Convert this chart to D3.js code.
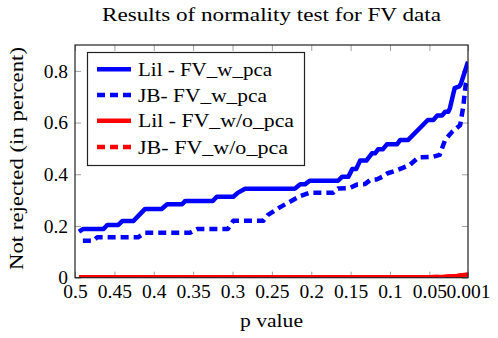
<!DOCTYPE html>
<html>
<head>
<meta charset="utf-8">
<script src="https://cdn.jsdelivr.net/npm/d3@7"></script>
<style>
  body { margin: 0; background: #fff; }
</style>
</head>
<body>
<svg id="chart" width="498" height="338"></svg>
<script>
// p value (x) and share not rejected (y)
var lilWpcaP = [0.495, 0.490, 0.464, 0.459, 0.445, 0.440, 0.426, 0.411, 0.390, 0.383, 0.364, 0.360, 0.325, 0.320, 0.299, 0.293, 0.284, 0.221, 0.214, 0.208, 0.202, 0.166, 0.161, 0.153, 0.148, 0.143, 0.138, 0.130, 0.123, 0.119, 0.115, 0.109, 0.104, 0.091, 0.087, 0.077, 0.052, 0.045, 0.040, 0.034, 0.030, 0.026, 0.024, 0.018, 0.012, 0.010, 0.001];
var lilWpcaV = [0.178, 0.188, 0.188, 0.204, 0.204, 0.219, 0.219, 0.266, 0.266, 0.284, 0.284, 0.297, 0.297, 0.313, 0.313, 0.329, 0.344, 0.344, 0.361, 0.361, 0.375, 0.375, 0.390, 0.390, 0.420, 0.420, 0.453, 0.453, 0.481, 0.481, 0.497, 0.497, 0.516, 0.516, 0.533, 0.533, 0.610, 0.610, 0.627, 0.627, 0.642, 0.642, 0.655, 0.733, 0.740, 0.750, 0.835];

var jbWpcaP = [0.490, 0.477, 0.472, 0.420, 0.411, 0.354, 0.345, 0.306, 0.299, 0.261, 0.255, 0.240, 0.227, 0.214, 0.202, 0.172, 0.166, 0.151, 0.142, 0.132, 0.125, 0.117, 0.110, 0.103, 0.090, 0.075, 0.064, 0.045, 0.037, 0.030, 0.021, 0.011, 0.007, 0.004, 0.001];
var jbWpcaV = [0.143, 0.143, 0.156, 0.156, 0.174, 0.174, 0.188, 0.188, 0.220, 0.220, 0.243, 0.272, 0.294, 0.316, 0.329, 0.329, 0.345, 0.347, 0.360, 0.362, 0.378, 0.380, 0.390, 0.404, 0.417, 0.436, 0.465, 0.468, 0.475, 0.533, 0.565, 0.590, 0.662, 0.745, 0.770];

var lilWopcaP = [0.495, 0.300, 0.100, 0.050, 0.030, 0.015, 0.001];
var lilWopcaV = [0.002, 0.002, 0.002, 0.002, 0.004, 0.007, 0.012];

var jbWopcaP = [0.495, 0.300, 0.100, 0.050, 0.030, 0.015, 0.001];
var jbWopcaV = [0.002, 0.002, 0.002, 0.002, 0.003, 0.006, 0.011];

var xTicks = [0.5, 0.45, 0.4, 0.35, 0.3, 0.25, 0.2, 0.15, 0.1, 0.05, 0.001];
var yTicks = [0, 0.2, 0.4, 0.6, 0.8];

var series = [
  { name: "Lil - FV_w_pca", p: lilWpcaP, v: lilWpcaV, color: "#0000ff", dash: null, w: 134 },
  { name: "JB- FV_w_pca", p: jbWpcaP, v: jbWpcaV, color: "#0000ff", dash: "8,5", w: 129 },
  { name: "Lil - FV_w/o_pca", p: lilWopcaP, v: lilWopcaV, color: "#ff0000", dash: null, w: 156 },
  { name: "JB- FV_w/o_pca", p: jbWopcaP, v: jbWopcaV, color: "#ff0000", dash: "8,5", w: 150 }
];

var FONT = "'Liberation Serif', 'DejaVu Serif', serif";

var svg = d3.select("#chart").attr("font-family", FONT);
var pl = 75, pr = 468, pt = 45, pb = 277.7;

var x = d3.scaleLinear().domain([0.5, 0.001]).range([pl, pr]);
var y = d3.scaleLinear().domain([0, 0.9]).range([pb, pt]);

svg.append("clipPath").attr("id", "plotclip")
  .append("rect").attr("x", pl).attr("y", pt).attr("width", pr - pl).attr("height", pb - pt);

var fmt = function(d){ return String(+d.toFixed(3)); };

// ticks, inward on all four sides
var gx = svg.append("g").attr("transform", "translate(0," + pb + ")")
  .call(d3.axisBottom(x).tickValues(xTicks).tickFormat(fmt).tickSizeInner(-6).tickSizeOuter(0).tickPadding(6));
var gxt = svg.append("g").attr("transform", "translate(0," + pt + ")")
  .call(d3.axisTop(x).tickValues(xTicks).tickFormat("").tickSizeInner(-6).tickSizeOuter(0));
var gy = svg.append("g").attr("transform", "translate(" + pl + ",0)")
  .call(d3.axisLeft(y).tickValues(yTicks).tickFormat(fmt).tickSizeInner(-6).tickSizeOuter(0).tickPadding(7));
var gyr = svg.append("g").attr("transform", "translate(" + pr + ",0)")
  .call(d3.axisRight(y).tickValues(yTicks).tickFormat("").tickSizeInner(-6).tickSizeOuter(0));

[gx, gxt, gy, gyr].forEach(function(g){
  g.attr("font-family", FONT);
  g.select(".domain").remove();
  g.selectAll(".tick line").attr("stroke", "#a0a0a0").attr("stroke-width", 1);
  g.selectAll(".tick text").attr("font-size", 19.5).attr("font-family", FONT).attr("fill", "#000");
});
gx.selectAll(".tick text").attr("dy", "0.72em");

var line = d3.line()
  .x(function(d){ return x(d[0]); })
  .y(function(d){ return y(d[1]); });

var plot = svg.append("g").attr("clip-path", "url(#plotclip)");
series.forEach(function(s){
  var pts = s.p.map(function(p, i){ return [p, s.v[i]]; });
  plot.append("path")
    .attr("d", line(pts))
    .attr("fill", "none")
    .attr("stroke", s.color)
    .attr("stroke-width", 4.5)
    .attr("stroke-linejoin", "round")
    .attr("stroke-dasharray", s.dash);
});

// frame
svg.append("rect")
  .attr("x", pl).attr("y", pt).attr("width", pr - pl).attr("height", pb - pt)
  .attr("fill", "none").attr("stroke", "#222").attr("stroke-width", 1.2);

// legend
var lg = svg.append("g");
lg.append("rect").attr("x", 87.5).attr("y", 52.5).attr("width", 217).attr("height", 113)
  .attr("fill", "#fff").attr("stroke", "#222").attr("stroke-width", 1.2);
var rowY = [69.3, 95, 120.7, 147];
series.forEach(function(s, i){
  lg.append("line")
    .attr("x1", 97).attr("x2", 131).attr("y1", rowY[i]).attr("y2", rowY[i])
    .attr("stroke", s.color).attr("stroke-width", 4.5)
    .attr("stroke-dasharray", s.dash);
  lg.append("text")
    .attr("x", 138).attr("y", rowY[i] + 6.5)
    .attr("font-family", FONT)
    .attr("font-size", 19.5)
    .attr("textLength", s.w).attr("lengthAdjust", "spacingAndGlyphs")
    .text(s.name);
});

// titles
svg.append("text")
  .attr("x", 102).attr("y", 21)
  .attr("font-family", FONT)
  .attr("font-size", 19.5)
  .attr("textLength", 339).attr("lengthAdjust", "spacingAndGlyphs")
  .text("Results of normality test for FV data");

svg.append("text")
  .attr("x", 240).attr("y", 327)
  .attr("font-family", FONT)
  .attr("font-size", 19.5)
  .attr("textLength", 63).attr("lengthAdjust", "spacingAndGlyphs")
  .text("p value");

svg.append("text")
  .attr("transform", "translate(22.5,270) rotate(-90)")
  .attr("font-family", FONT)
  .attr("font-size", 19.5)
  .attr("textLength", 223).attr("lengthAdjust", "spacingAndGlyphs")
  .text("Not rejected (in percent)");
</script>
</body>
</html>
